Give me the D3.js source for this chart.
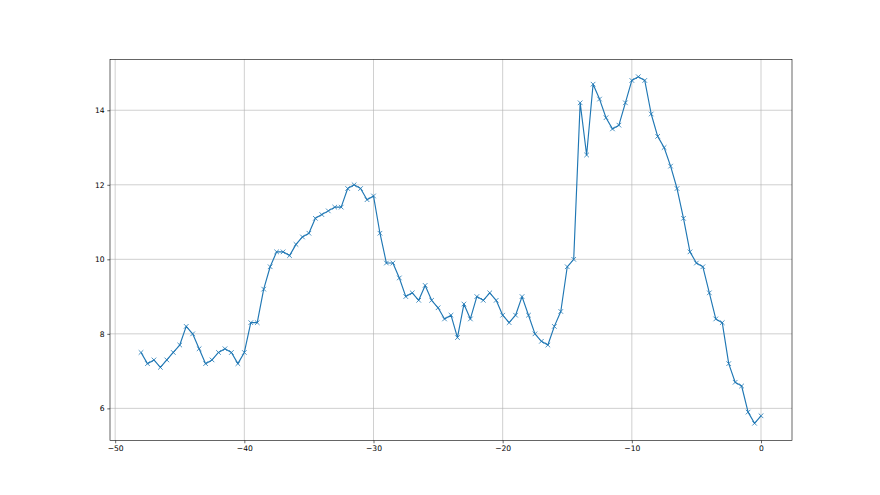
<!DOCTYPE html>
<html>
<head>
<meta charset="utf-8">
<script src="https://cdn.jsdelivr.net/npm/d3@7"></script>
<style>
  body { margin: 0; background: #fff; }
  svg { display: block; }
  .tick text { font-family: "DejaVu Sans", sans-serif; font-size: 7.6px; fill: #000; }
</style>
</head>
<body>
<script>
// values, x runs from -48 to 0 by 0.5
const xValues = d3.range(-48, 0.001, 0.5);
const yValues = [
  7.5, 7.2, 7.3, 7.1, 7.3, 7.5, 7.7, 8.2, 8.0, 7.6,
  7.2, 7.3, 7.5, 7.6, 7.5, 7.2, 7.5, 8.3, 8.3, 9.2,
  9.8, 10.2, 10.2, 10.1, 10.4, 10.6, 10.7, 11.1, 11.2, 11.3,
  11.4, 11.4, 11.9, 12.0, 11.9, 11.6, 11.7, 10.7, 9.9, 9.9,
  9.5, 9.0, 9.1, 8.9, 9.3, 8.9, 8.7, 8.4, 8.5, 7.9,
  8.8, 8.4, 9.0, 8.9, 9.1, 8.9, 8.5, 8.3, 8.5, 9.0,
  8.5, 8.0, 7.8, 7.7, 8.2, 8.6, 9.8, 10.0, 14.2, 12.8,
  14.7, 14.3, 13.8, 13.5, 13.6, 14.2, 14.8, 14.9, 14.8, 13.9,
  13.3, 13.0, 12.5, 11.9, 11.1, 10.2, 9.9, 9.8, 9.1, 8.4,
  8.3, 7.2, 6.7, 6.6, 5.9, 5.6, 5.8
];
const xTicks = [-50, -40, -30, -20, -10, 0];
const yTicks = [6, 8, 10, 12, 14];

const W = 880, H = 495;
const box = { left: 110, right: 792, top: 59.4, bottom: 440.6 };
const lineColor = '#1f77b4';

const points = xValues.map((x, i) => ({ x: x, y: yValues[i] }));

// matplotlib style 5% margins
const xExt = d3.extent(xValues), yExt = d3.extent(yValues);
const xPad = (xExt[1] - xExt[0]) * 0.05, yPad = (yExt[1] - yExt[0]) * 0.05;

const x = d3.scaleLinear()
  .domain([xExt[0] - xPad, xExt[1] + xPad])
  .range([box.left, box.right]);
const y = d3.scaleLinear()
  .domain([yExt[0] - yPad, yExt[1] + yPad])
  .range([box.bottom, box.top]);

const svg = d3.select('body').append('svg')
  .attr('width', W)
  .attr('height', H);

// grid
const grid = svg.append('g').attr('class', 'grid');
grid.selectAll('line.gx').data(xTicks).join('line')
  .attr('class', 'gx')
  .attr('x1', d => x(d)).attr('x2', d => x(d))
  .attr('y1', box.top).attr('y2', box.bottom)
  .attr('stroke', '#b0b0b0').attr('stroke-width', 0.6);
grid.selectAll('line.gy').data(yTicks).join('line')
  .attr('class', 'gy')
  .attr('x1', box.left).attr('x2', box.right)
  .attr('y1', d => y(d)).attr('y2', d => y(d))
  .attr('stroke', '#b0b0b0').attr('stroke-width', 0.6);

// series
const line = d3.line().x(d => x(d.x)).y(d => y(d.y));
svg.append('path')
  .datum(points)
  .attr('d', line)
  .attr('fill', 'none')
  .attr('stroke', lineColor)
  .attr('stroke-width', 1.15)
  .attr('stroke-linejoin', 'round');

const m = 2.3;
svg.append('g').selectAll('path').data(points).join('path')
  .attr('d', d => {
    const cx = x(d.x), cy = y(d.y);
    return `M${cx - m},${cy - m}L${cx + m},${cy + m}M${cx - m},${cy + m}L${cx + m},${cy - m}`;
  })
  .attr('stroke', lineColor)
  .attr('stroke-width', 0.8)
  .attr('fill', 'none');

// axes
const xAxis = svg.append('g')
  .attr('transform', `translate(0,${box.bottom})`)
  .call(d3.axisBottom(x).tickValues(xTicks).tickSize(2.7).tickPadding(2.6));
const yAxis = svg.append('g')
  .attr('transform', `translate(${box.left},0)`)
  .call(d3.axisLeft(y).tickValues(yTicks).tickSize(2.7).tickPadding(2.6));

[xAxis, yAxis].forEach(a => {
  a.select('.domain').remove();
  a.selectAll('.tick line').attr('stroke', '#000').attr('stroke-width', 0.6);
});

// frame
svg.append('rect')
  .attr('x', box.left).attr('y', box.top)
  .attr('width', box.right - box.left)
  .attr('height', box.bottom - box.top)
  .attr('fill', 'none')
  .attr('stroke', '#000')
  .attr('stroke-width', 0.6);
</script>
</body>
</html>
